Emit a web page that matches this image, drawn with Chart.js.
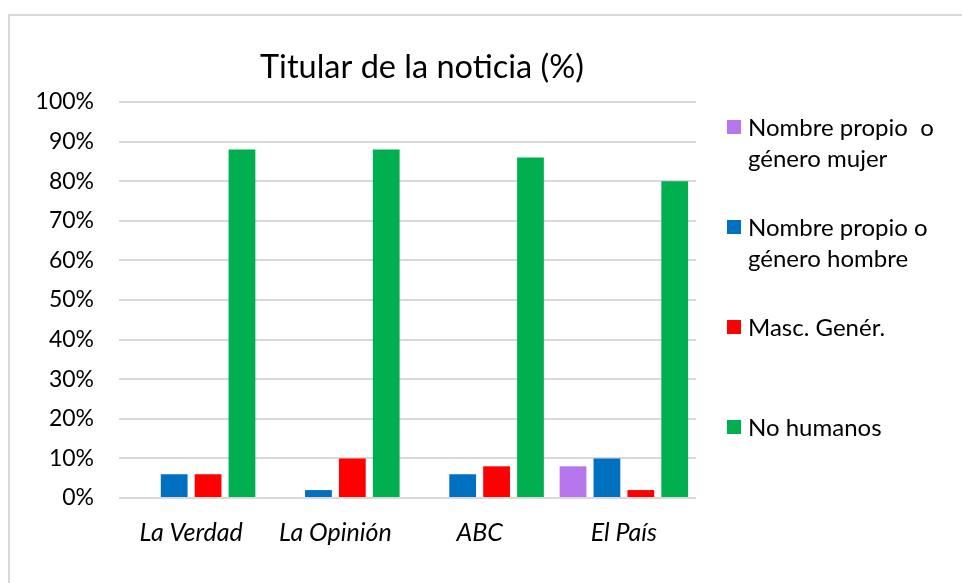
<!DOCTYPE html>
<html>
<head>
<meta charset="utf-8">
<script src="https://cdn.jsdelivr.net/npm/chart.js@4/dist/chart.umd.min.js"></script>
<style>
  html, body { margin: 0; padding: 0; background: #fff; }
  #wrap { position: relative; width: 962px; height: 583px; overflow: hidden; }
  #frame { position: absolute; left: 8px; top: 14px; width: 2000px; height: 2000px;
           border-left: 2px solid #d9d9d9; border-top: 2px solid #d9d9d9; box-sizing: border-box; }
  canvas { position: absolute; left: 0; top: 0; }
</style>
</head>
<body>
<div id="wrap">
  <div id="frame"></div>
  <canvas id="c" width="962" height="583"></canvas>
</div>
<script>
const titleText = 'Titular de la noticia (%)';
const categories = ['La Verdad', 'La Opinión', 'ABC', 'El País'];
const seriesNames = [
  ['Nombre propio  o', 'género mujer'],
  ['Nombre propio o', 'género hombre'],
  ['Masc. Genér.'],
  ['No humanos']
];
const seriesColors = ['#B776EC', '#0070C0', '#FF0000', '#00B050'];
const mujer   = [0, 0, 0, 8];
const hombre  = [6, 2, 6, 10];
const mascGen = [6, 10, 8, 2];
const noHum   = [88, 88, 86, 80];
const yTicks = [0, 10, 20, 30, 40, 50, 60, 70, 80, 90, 100];

const FONT = 'Lato, "Open Sans", sans-serif';

const seriesValues = [mujer, hombre, mascGen, noHum];

const overlayPlugin = {
  id: 'overlay',
  afterDraw(chart) {
    const ctx = chart.ctx;
    ctx.save();
    // title
    ctx.fillStyle = '#000';
    ctx.font = '32.5px ' + FONT;
    ctx.textAlign = 'center';
    ctx.textBaseline = 'middle';
    ctx.fillText(titleText, 422, 68);
    // legend
    ctx.font = '24px ' + FONT;
    ctx.textAlign = 'left';
    const itemY = [127, 227, 327, 427];
    seriesNames.forEach((lines, i) => {
      ctx.fillStyle = seriesColors[i];
      ctx.fillRect(727, itemY[i] - 7, 14, 14);
      ctx.fillStyle = '#000';
      lines.forEach((ln, j) => {
        ctx.fillText(ln, 748, itemY[i] + 1 + j * 31);
      });
    });
    ctx.restore();
  }
};

new Chart(document.getElementById('c'), {
  type: 'bar',
  data: {
    labels: categories,
    datasets: seriesValues.map((vals, i) => ({
      label: seriesNames[i].join(' '),
      data: vals,
      backgroundColor: seriesColors[i],
      borderWidth: 0,
      categoryPercentage: 0.94,
      barPercentage: 0.79
    }))
  },
  options: {
    responsive: false,
    animation: false,
    devicePixelRatio: 1,
    layout: { padding: { left: 0, right: 266, top: 102, bottom: 0 } },
    plugins: {
      legend: { display: false },
      title: { display: false },
      tooltip: { enabled: false }
    },
    scales: {
      x: {
        grid: { display: false, drawTicks: false },
        border: { display: false },
        ticks: {
          color: '#000',
          padding: 20,
          font: { family: FONT, size: 25, style: 'italic' },
          maxRotation: 0
        },
        afterFit(s) { s.height = 85; }
      },
      y: {
        min: 0, max: 100,
        afterBuildTicks(s) { s.ticks = yTicks.map(v => ({ value: v })); },
        grid: { color: '#d9d9d9', lineWidth: 2, drawTicks: false },
        border: { display: false },
        ticks: {
          color: '#000',
          padding: 25,
          font: { family: FONT, size: 23 },
          callback: v => v + '%'
        },
        afterFit(s) { s.width = 119; }
      }
    }
  },
  plugins: [overlayPlugin]
});
</script>
</body>
</html>
